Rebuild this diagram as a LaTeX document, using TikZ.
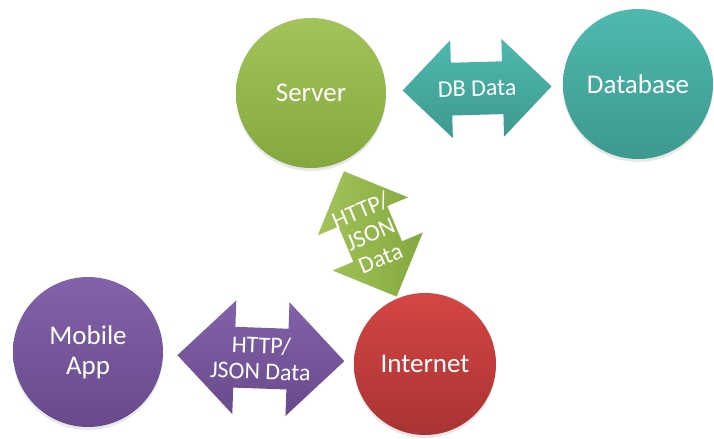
\documentclass[tikz,border=0pt]{standalone}
\usepackage{fontspec}
\setmainfont{Carlito}
\usetikzlibrary{shapes.arrows,shadows}

\definecolor{greentop}{HTML}{A2C45A}
\definecolor{greenbot}{HTML}{84A83F}
\definecolor{tealtop}{HTML}{4EB9AD}
\definecolor{tealbot}{HTML}{3E998E}
\definecolor{purpletop}{HTML}{8262AA}
\definecolor{purplebot}{HTML}{684A8B}
\definecolor{redtop}{HTML}{D44643}
\definecolor{redbot}{HTML}{A93333}

\begin{document}
\begin{tikzpicture}[
  x=0.5pt, y=-0.5pt,
  hub/.style={circle, minimum size=75pt, inner sep=0pt, align=center, text=white,
    font=\fontsize{13.5}{15}\selectfont,
    drop shadow={shadow xshift=0pt, shadow yshift=-1.5pt, opacity=0.18}},
  link/.style={double arrow, double arrow tip angle=90, inner xsep=0pt, sloped},
  linklabel/.style={text=white, align=center, inner sep=0pt, font=\fontsize{12}{13}\selectfont},
  greenfill/.style={top color=greentop, bottom color=greenbot},
  tealfill/.style={top color=tealtop, bottom color=tealbot},
  purplefill/.style={top color=purpletop, bottom color=purplebot},
  redfill/.style={top color=redtop, bottom color=redbot}
]
\useasboundingbox (0,0) rectangle (714,439);
% hubs
\node[hub, greenfill] (server) at (311,93) {Server};
\node[hub, tealfill] (database) at (638,84) {Database};
\node[hub, purplefill] (mobile) at (88,352) {Mobile\\App};
\node[hub, redfill, minimum size=71pt] (internet) at (425,364) {Internet};
% block arrows between hubs
\path (server.center) -- node[pos=0.508, link, tealfill, inner ysep=13pt,
    double arrow head extend=11.25pt, minimum height=74.5pt] (dbdata) {}
  node[pos=0.508, sloped, linklabel] {DB Data} (database.center);
\path (server.center) -- node[pos=0.52, link, left color=greentop, right color=greenbot,
    inner ysep=13pt, double arrow head extend=11.25pt, minimum height=68pt] (webdata) {}
  node[pos=0.52, sloped, rotate=90, linklabel] {HTTP/\\JSON\\Data} (internet.center);
\path (mobile.center) -- node[pos=0.513, link, purplefill, inner ysep=15pt,
    double arrow head extend=13.25pt, minimum height=83.5pt] (appdata) {}
  node[pos=0.513, sloped, linklabel] {HTTP/\\JSON Data} (internet.center);
\end{tikzpicture}
\end{document}
